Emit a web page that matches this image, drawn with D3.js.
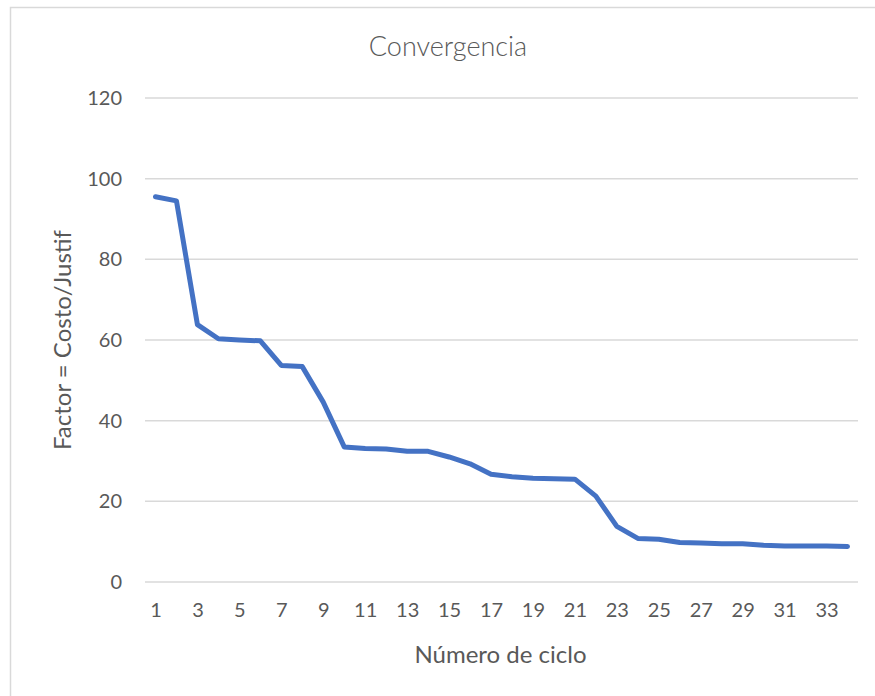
<!DOCTYPE html>
<meta charset="utf-8">
<title>Convergencia</title>
<script src="https://d3js.org/d3.v7.min.js"></script>
<style>
  body { margin: 0; background: #fff; }
  text { font-family: Lato, "Open Sans", sans-serif; fill: #595959; }
</style>
<body>
<script>
// ciclos 1..34 y el factor costo/justificacion
var ciclos = d3.range(1, 35);
var factor = [95.5, 94.5, 63.8, 60.3, 60.0, 59.8, 53.7, 53.4, 44.6, 33.5,
              33.1, 33.0, 32.4, 32.4, 31.0, 29.3, 26.7, 26.1, 25.7, 25.6,
              25.5, 21.3, 13.8, 10.8, 10.6, 9.8, 9.7, 9.5, 9.5, 9.1,
              8.9, 8.9, 8.9, 8.8];
var yTicks = [0, 20, 40, 60, 80, 100, 120];

var width = 875, height = 696;
var margin = { left: 145, right: 17, top: 98, bottom: 114 };
var w = width - margin.left - margin.right,
    h = height - margin.top - margin.bottom;

var svg = d3.select("body").append("svg")
    .attr("width", width)
    .attr("height", height);

// marco del grafico
svg.append("rect")
    .attr("x", 10.5).attr("y", 7.5)
    .attr("width", 880).attr("height", 700)
    .attr("fill", "none")
    .attr("stroke", "#d9d9d9")
    .attr("stroke-width", 1.5);

var g = svg.append("g")
    .attr("transform", "translate(" + margin.left + "," + margin.top + ")");

var xScale = d3.scalePoint().domain(ciclos).range([0, w]).padding(0.5);
var yScale = d3.scaleLinear().domain([0, 120]).range([h, 0]);

// lineas de cuadricula
g.append("g")
    .selectAll("line")
    .data(yTicks)
    .enter().append("line")
    .attr("x1", 0).attr("x2", w)
    .attr("y1", function (d) { return yScale(d); })
    .attr("y2", function (d) { return yScale(d); })
    .attr("stroke", "#d9d9d9")
    .attr("stroke-width", 1.5);

var yAxis = d3.axisLeft(yScale).tickValues(yTicks).tickSize(0).tickPadding(23);
var yAxisG = g.append("g").call(yAxis);
yAxisG.select(".domain").remove();
yAxisG.selectAll("text").style("font-size", "20px");

var xAxis = d3.axisBottom(xScale)
    .tickValues(ciclos.filter(function (d) { return d % 2 == 1; }))
    .tickSize(0).tickPadding(21);
var xAxisG = g.append("g")
    .attr("transform", "translate(0," + h + ")")
    .call(xAxis);
xAxisG.select(".domain").remove();
xAxisG.selectAll("text").style("font-size", "20px");

var line = d3.line()
    .x(function (d, i) { return xScale(ciclos[i]); })
    .y(function (d) { return yScale(d); });

g.append("path")
    .datum(factor)
    .attr("d", line)
    .attr("fill", "none")
    .attr("stroke", "#4472c4")
    .attr("stroke-width", 5)
    .attr("stroke-linejoin", "round")
    .attr("stroke-linecap", "round");

// titulos
svg.append("text")
    .attr("x", 448).attr("y", 56)
    .attr("text-anchor", "middle")
    .style("font-size", "27px")
    .style("font-weight", 300)
    .text("Convergencia");

svg.append("text")
    .attr("x", margin.left + w / 2 - 1).attr("y", 663)
    .attr("text-anchor", "middle")
    .style("font-size", "24px")
    .text("Número de ciclo");

svg.append("text")
    .attr("transform", "translate(71," + (margin.top + h / 2) + ") rotate(-90)")
    .attr("text-anchor", "middle")
    .style("font-size", "24px")
    .text("Factor = Costo/Justif");
</script>
</body>
